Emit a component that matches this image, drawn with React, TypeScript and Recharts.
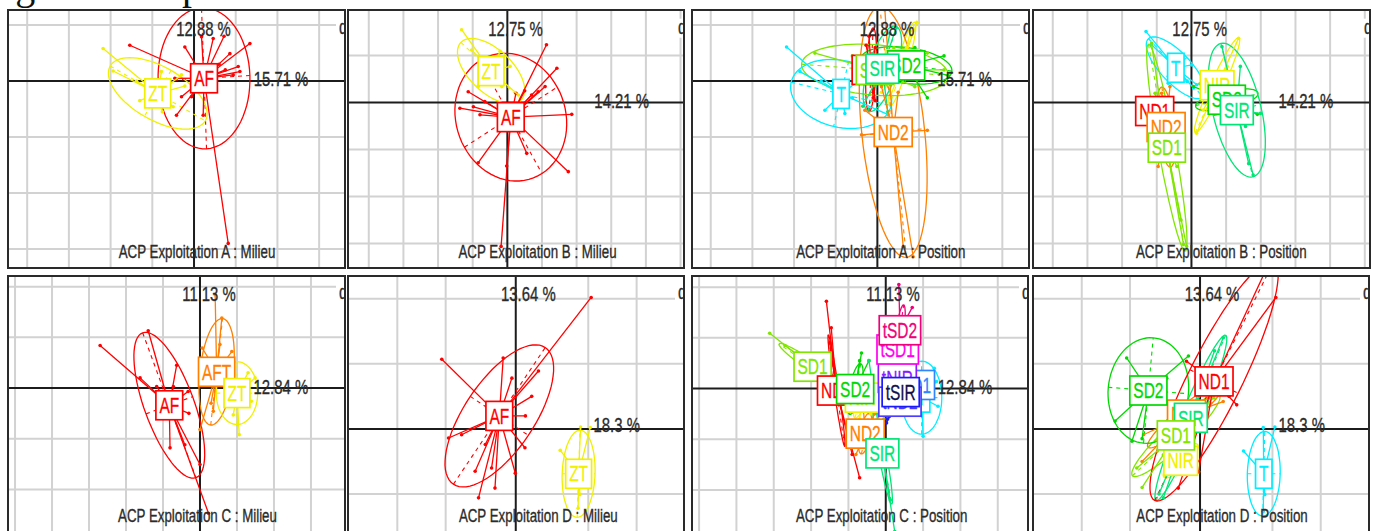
import React from 'react';
import { ScatterChart, Scatter, XAxis, YAxis, ReferenceLine } from 'recharts';

// class colours (ade4 style rainbow)
const RED = '#ff0000';
const ORANGE = '#ff8000';
const YELLOW = '#f0f000';
const LIME = '#80e600';
const GREEN = '#00d900';
const SPRING = '#00e676';
const CYAN = '#00eeff';
const AZURE = '#2f86ff';
const INDIGO = '#4b3cff';
const BLUE = '#1a1aff';
const VIOLET = '#8a1aff';
const MAGENTA = '#ff00ee';
const PINK = '#f0007a';

type Grp = { name: string; col: string; tc?: string; c: number[]; u: number[]; v: number[]; pts: number[][] };

// ---- Exploitation A : Milieu
const A_MIL_AF: Grp = { name: 'AF', col: RED, c: [0.24, 0.05], u: [-0.06, 1.26], v: [1.1, 0.05],
  pts: [[0.82, -2.9], [-1.54, 0.64], [-0.22, 0.61], [0.18, 0.79], [0.46, 0.76], [0.72, 0.8], [0.86, 0.49], [1.34, 0.67], [1.06, 0.26], [1.1, 0.17], [0.94, 0.11], [-0.46, 0.05], [-0.3, -0.28], [-0.42, -0.61], [-0.06, -0.28], [0.22, -0.61], [0.6, 0.3], [0.75, 0.2]] };
const A_MIL_ZT: Grp = { name: 'ZT', col: YELLOW, c: [-0.87, -0.22], u: [1.14, -0.49], v: [-0.32, -0.41],
  pts: [[-2.18, 0.58], [-1.38, 0], [-1.94, 0.18], [-0.76, -0.55], [-0.5, -0.46], [-0.3, 0.11], [-0.22, -0.09], [-0.78, 0.17], [-1.3, -0.35]] };

// ---- Exploitation B : Milieu
const B_MIL_AF: Grp = { name: 'AF', col: RED, c: [0.1, -0.31], u: [1.34, 0.64], v: [0.9, -1.2],
  pts: [[-0.18, -3.06], [1.86, -0.25], [1.13, 1.23], [1.43, 0.73], [1.76, -1.47], [-0.84, -1.28], [-1.37, -0.12], [-1.13, 0.23], [-0.79, -0.26], [-0.65, 0.02], [-0.98, -0.09], [0.7, 0.16], [0.89, 0.23], [1.09, 0.34], [0.56, -1.08], [-0.02, -1.35], [0.5, 0.25], [0.25, 0.2]] };
const B_MIL_ZT: Grp = { name: 'ZT', col: YELLOW, c: [-0.47, 0.67], u: [0.87, -0.61], v: [-0.43, -0.33],
  pts: [[-1.32, 1.55], [-1.03, 1.12], [-0.16, 0.34], [-0.84, 0.34], [0.32, 0.16], [0.08, 0.77], [-0.21, 1.09]] };

// ---- Exploitation A : Position
const A_POS_NIR: Grp = { name: 'NIR', col: YELLOW, c: [0.6, 0.3], u: [0.3, 0.75], v: [0.12, -0.05],
  pts: [[0.95, 1.05], [0.8, 0.9], [0.3, -0.3], [0.1, -0.2], [0.7, 0.6]] };
const A_POS_ND1: Grp = { name: 'ND1', col: RED, c: [-0.15, 0.2], u: [0.05, 0.75], v: [0.12, 0],
  pts: [[-0.27, 0.64], [-0.2, 0.8], [-0.1, -0.3], [-0.05, 0.6], [-0.25, 0.1], [-0.1, -0.2], [-0.05, -0.35]] };
const A_POS_SD1: Grp = { name: 'SD1', col: LIME, c: [-0.06, 0.2], u: [1.76, -0.1], v: [0.03, 0.45],
  pts: [[-1.5, 0.5], [1.6, 0.2], [1.2, 0.5], [-0.6, 0.45], [0.9, -0.1], [0.4, 0.6]] };
const A_POS_SD2: Grp = { name: 'SD2', col: GREEN, c: [0.69, 0.28], u: [1.1, -0.1], v: [0.02, 0.32],
  pts: [[1.6, 0.45], [1.7, 0.1], [-0.1, 0.05], [1.2, -0.3], [0.9, 0.6]] };
const A_POS_SIR: Grp = { name: 'SIR', col: SPRING, c: [0.12, 0.22], u: [0.35, 0.75], v: [0.3, -0.14],
  pts: [[0.45, 0.95], [0.3, 0.85], [-0.35, -0.45], [0.25, -0.55], [0.6, 0.1], [-0.2, 0.3]] };
const A_POS_T: Grp = { name: 'T', col: CYAN, c: [-0.87, -0.23], u: [1.2, -0.21], v: [-0.18, -0.58],
  pts: [[-2.18, 0.61], [-1.86, 0.17], [-1.26, -0.52], [-0.78, -0.58], [-0.38, 0.04], [0.26, -0.6], [-1.35, 0], [-0.6, -0.3]] };
const A_POS_ND2: Grp = { name: 'ND2', col: ORANGE, c: [0.38, -0.91], u: [0.32, -2.24], v: [0.75, 0.06],
  pts: [[0.86, -3.14], [0.62, -2.96], [0.18, 1.27], [-0.38, -0.96], [1.2, -0.88], [-0.3, -0.52], [0.5, -0.2], [0.1, -0.1]] };

// ---- Exploitation B : Position
const B_POS_T: Grp = { name: 'T', col: CYAN, c: [-0.45, 0.74], u: [0.79, -0.62], v: [-0.32, -0.22],
  pts: [[-1.31, 1.51], [-1.15, 1.23], [0.01, 0.8], [-0.13, 0.45], [0.15, 0.38], [0.06, 0.31], [-0.67, 0.41]] };
const B_POS_NIR: Grp = { name: 'NIR', col: YELLOW, c: [0.74, 0.37], u: [0.63, 1.01], v: [0.17, -0.06],
  pts: [[1.36, 1.37], [0.15, -0.65], [0.34, -0.16], [1.03, 0.77], [0.5, 0.1]] };
const B_POS_SD2: Grp = { name: 'SD2', col: GREEN, c: [1.02, 0.06], u: [0.9, 0.12], v: [0.05, 0.2],
  pts: [[0.06, 0.34], [0.3, 0.25], [0.25, 0.4], [1.5, 0], [1.9, -0.25]] };
const B_POS_SIR: Grp = { name: 'SIR', col: SPRING, c: [1.31, -0.16], u: [0.46, -1.42], v: [0.68, 0.12],
  pts: [[1.78, -1.54], [1.99, -0.23], [1.41, 0.77], [0.88, 1.19], [1.56, -0.51], [1.65, -1.3]] };
const B_POS_ND1: Grp = { name: 'ND1', col: RED, c: [-1.06, -0.18], u: [0.05, 0.3], v: [0.1, 0],
  pts: [[-1.0, 0.1], [-1.1, -0.4], [-0.95, -0.1], [-1.15, 0.05]] };
const B_POS_ND2: Grp = { name: 'ND2', col: ORANGE, c: [-0.73, -0.52], u: [0.12, -0.85], v: [0.24, 0],
  pts: [[-0.96, -1.36], [-0.62, 0.34], [-0.86, 0.2], [-0.52, -1.22], [-0.6, -0.8]] };
const B_POS_SD1: Grp = { name: 'SD1', col: LIME, c: [-0.71, -0.96], u: [0.53, -2.2], v: [0.24, 0.03],
  pts: [[-0.14, -3.06], [-0.23, -3.02], [-1.15, 1.26], [-1.05, 0.2], [-0.42, -1.36], [-0.3, -2.5]] };

// ---- Exploitation C : Milieu
const C_MIL_AF: Grp = { name: 'AF', col: RED, c: [-0.83, -0.34], u: [0.72, -1.43], v: [0.63, 0.17],
  pts: [[-2.7, 0.84], [-1.4, 1.13], [-0.63, 0.45], [-0.72, 0.03], [-1.17, 0.03], [-0.81, -1.18], [-0.41, -1.12], [0, -1.51], [0.23, -2.47], [-0.32, -0.07], [-1.62, 0.2], [-0.3, -0.5]] };
const C_MIL_AFT: Grp = { name: 'AFT', col: ORANGE, c: [0.45, 0.32], u: [0.16, 1.05], v: [0.45, -0.03],
  pts: [[0.41, 1.84], [0.59, 1.38], [0.86, 0.72], [0.06, 0.79], [0, -0.82], [0.36, -0.46], [0.54, 0.86], [0.3, -0.3]] };
const C_MIL_ZT: Grp = { name: 'ZT', col: YELLOW, c: [1.0, -0.1], u: [0, 0.62], v: [0.56, 0],
  pts: [[1.06, -0.92], [1.49, 0.2], [0.63, 0.2], [0.9, -0.53], [1.39, -0.26], [1.3, 0.3]] };

// ---- Exploitation D : Milieu
const D_MIL_AF: Grp = { name: 'AF', col: RED, c: [-0.34, 0.2], u: [0.95, 1.05], v: [0.6, -0.3],
  pts: [[1.56, 2.02], [-1.53, 1.07], [-0.26, 1.09], [-0.08, 0.78], [0.47, 0.89], [0.33, 0.5], [-1.39, -0.14], [-1.12, -0.09], [-0.77, -1.06], [-0.43, -0.91], [-0.84, -0.65], [-0.01, -0.68], [0.19, -0.29], [-0.63, -0.24], [-0.5, -0.6], [0.2, 0.2]] };
const D_MIL_ZT: Grp = { name: 'ZT', col: YELLOW, c: [1.3, -0.69], u: [0.03, 0.67], v: [0.34, 0],
  pts: [[0.92, -0.33], [1.54, 0.02], [1.34, 0.03], [1.33, -1.01], [1.29, -1.22]] };

// ---- Exploitation C : Position
const C_POS_SD1: Grp = { name: 'SD1', col: LIME, c: [-1.96, 0.43], u: [-0.9, 0.45], v: [0.05, 0.1],
  pts: [[-3.11, 1.09], [-2.7, 0.85], [-2.4, 0.7], [-1.3, 0.1]] };
const C_POS_ND1: Grp = { name: 'ND1', col: RED, c: [-1.32, -0.04], u: [-0.22, 1.1], v: [0.06, 0.01],
  pts: [[-1.59, 1.72], [-0.7, -1.76], [-1.46, 1.2], [-1.5, 0.9], [-0.9, -1.3]] };
const C_POS_NIR: Grp = { name: 'NIR', col: YELLOW, c: [-0.63, -0.18], u: [0.2, 0.4], v: [0.12, -0.05],
  pts: [[-0.9, 0.2], [-0.4, -0.5], [-0.7, -0.6]] };
const C_POS_SD2: Grp = { name: 'SD2', col: GREEN, c: [-0.82, -0.01], u: [0.15, 0.5], v: [0.15, -0.04],
  pts: [[-0.65, 0.7], [-0.7, 0.55], [-0.9, -0.3], [-0.45, 0.55]] };
const C_POS_ND2: Grp = { name: 'ND2', col: ORANGE, c: [-0.55, -0.89], u: [0.1, 0.4], v: [0.15, 0],
  pts: [[-0.8, -1.3], [-0.3, -0.5], [-0.6, -0.4]] };
const C_POS_SIR: Grp = { name: 'SIR', col: SPRING, c: [-0.09, -1.28], u: [0.25, -1.0], v: [0.1, 0.02],
  pts: [[0.24, -2.82], [0.12, -2.2], [-0.45, 0.55], [-0.05, -0.6]] };
const C_POS_T: Grp = { name: 'T', col: CYAN, c: [0.96, -0.18], u: [0, 0.72], v: [0.54, 0],
  pts: [[1.0, -0.94], [1.36, 0.14], [0.6, -0.52], [1.3, 0.4], [1.4, -0.35], [0.55, 0.2]] };
const C_POS_TND1: Grp = { name: 'tND1', col: AZURE, c: [0.74, 0.07], u: [0.2, 0.15], v: [0.05, -0.08],
  pts: [[0.9, 0.3], [0.6, -0.2]] };
const C_POS_TNIR: Grp = { name: 'tNIR', col: VIOLET, c: [0.31, 0.21], u: [0.15, 0.25], v: [0.08, -0.04],
  pts: [[0.5, 0.5], [0.2, -0.1]] };
const C_POS_TSD1: Grp = { name: 'tSD1', col: MAGENTA, c: [0.32, 0.77], u: [0.1, 0.3], v: [0.15, 0],
  pts: [[0.5, 1.1], [0.2, 0.5], [0.6, 0.6]] };
const C_POS_TSD2: Grp = { name: 'tSD2', col: PINK, c: [0.38, 1.15], u: [0.1, 0.5], v: [0.1, -0.02],
  pts: [[0.35, 2.05], [0.71, 1.6], [0.2, 0.9]] };
const C_POS_TND2: Grp = { name: 'tND2', col: INDIGO, c: [0.38, -0.26], u: [0.2, 0.2], v: [0.06, -0.06],
  pts: [[0.1, -0.55], [0.6, -0.1]] };
const C_POS_TSIR: Grp = { name: 'tSIR', col: BLUE, tc: '#10104a', c: [0.4, -0.07], u: [0.3, 0.4], v: [0.05, -0.04],
  pts: [[0.02, -0.68], [0.05, -0.6], [0.8, 0.1]] };

// ---- Exploitation D : Position
const D_POS_NIR: Grp = { name: 'NIR', col: YELLOW, c: [-0.4, -0.49], u: [0.35, 0.25], v: [0.1, -0.08],
  pts: [[-0.03, -0.66], [-0.55, -0.4], [-0.3, -0.25], [-0.6, -0.7]] };
const D_POS_ND2: Grp = { name: 'ND2', col: ORANGE, c: [-0.28, 0.22], u: [0.8, 0.5], v: [0.12, -0.11],
  pts: [[-1.17, -0.09], [0.34, 0.58], [0.48, 0.42], [-1.2, -0.5], [-0.5, 0]] };
const D_POS_SIR: Grp = { name: 'SIR', col: SPRING, c: [-0.19, 0.17], u: [0.72, 1.27], v: [0.19, -0.06],
  pts: [[0.48, 1.4], [-0.76, -1.06], [0.1, 0.94], [-0.48, -0.7], [-0.85, -1.0], [0.3, 1.2]] };
const D_POS_SD1: Grp = { name: 'SD1', col: LIME, c: [-0.5, -0.1], u: [0.9, 0.62], v: [0.16, -0.13],
  pts: [[-1.31, -0.6], [0.28, 0.48], [-0.76, -0.4], [-1.2, -0.9], [0.1, 0.3]] };
const D_POS_SD2: Grp = { name: 'SD2', col: GREEN, c: [-1.07, 0.59], u: [0.1, 0.81], v: [0.83, -0.05],
  pts: [[-1.52, 1.09], [-0.24, 1.12], [-1.41, -0.19], [-1.76, 0.12], [-0.69, 0.78], [-1.2, -0.15]] };
const D_POS_ND1: Grp = { name: 'ND1', col: RED, c: [0.29, 0.73], u: [1.23, 1.83], v: [0.5, -0.18],
  pts: [[1.57, 2.02], [-0.03, -0.66], [-0.45, -0.91], [-0.28, 1.04], [0.76, 0.37], [1.4, 2.5], [0, 0.9], [0.6, 0.5]] };
const D_POS_T: Grp = { name: 'T', col: CYAN, c: [1.32, -0.69], u: [0.02, 0.65], v: [0.34, 0],
  pts: [[0.9, -0.34], [1.55, 0.03], [1.31, 0.02], [1.34, -1.01], [1.31, -1.27]] };

// texts
const TITLES = [
  'ACP Exploitation A : Milieu', 'ACP Exploitation B : Milieu', 'ACP Exploitation A : Position', 'ACP Exploitation B : Position',
  'ACP Exploitation C : Milieu', 'ACP Exploitation D : Milieu', 'ACP Exploitation C : Position', 'ACP Exploitation D : Position',
];
const EIG_V = ['12.88 %', '12.75 %', '12.88 %', '12.75 %', '11.13 %', '13.64 %', '11.13 %', '13.64 %'];
const EIG_H = ['15.71 %', '14.21 %', '15.71 %', '14.21 %', '12.84 %', '18.3 %', '12.84 %', '18.3 %'];

// layout of the 8 panels (pixels) and their axis windows (grid units)
const PANELS = [
  { left: 8, top: 10, w: 337, h: 258, xd: [-4.46, 3.62], yd: [-3.34, 1.27], gx: [-4, -3, -2, -1, 1, 2, 3], gy: [1, -1, -2, -3],
    groups: [A_MIL_AF, A_MIL_ZT], eTop: [203.5, 35.7], eRight: [281, 86], tx: 197, ty: 258.3 },
  { left: 348, top: 10, w: 336, h: 258, xd: [-4.6, 5.1], yd: [-3.52, 1.97], gx: [-4, -3, -2, -1, 1, 2, 3, 4, 5], gy: [1, -1, -2, -3],
    groups: [B_MIL_AF, B_MIL_ZT], eTop: [515.5, 35.7], eRight: [621.7, 107.7], tx: 537.5, ty: 258.3 },
  { left: 692, top: 10, w: 337, h: 258, xd: [-4.45, 3.64], yd: [-3.34, 1.27], gx: [-4, -3, -2, -1, 1, 2, 3], gy: [1, -1, -2, -3],
    groups: [A_POS_NIR, A_POS_ND1, A_POS_SD1, A_POS_SD2, A_POS_SIR, A_POS_T, A_POS_ND2], eTop: [887, 35.7], eRight: [964.7, 86], tx: 880.8, ty: 258.3 },
  { left: 1033, top: 10, w: 337, h: 258, xd: [-4.57, 5.15], yd: [-3.52, 1.97], gx: [-4, -3, -2, -1, 1, 2, 3, 4, 5], gy: [1, -1, -2, -3],
    groups: [B_POS_T, B_POS_NIR, B_POS_SD2, B_POS_SIR, B_POS_ND1, B_POS_ND2, B_POS_SD1], eTop: [1199.7, 35.7], eRight: [1305.8, 107.7], tx: 1221.3, ty: 258.3 },
  { left: 8, top: 276, w: 337, h: 257, xd: [-5.19, 3.92], yd: [-2.86, 2.21], gx: [-5, -4, -3, -2, -1, 1, 2, 3], gy: [2, 1, -1, -2],
    groups: [C_MIL_AF, C_MIL_AFT, C_MIL_ZT], eTop: [209, 301.3], eRight: [280.8, 394], tx: 197.5, ty: 522 },
  { left: 348, top: 276, w: 336, h: 257, xd: [-3.47, 3.48], yd: [-1.6, 2.35], gx: [-2.45, -1.45, 1.5, 2.5], gy: [2, 1, -1],
    groups: [D_MIL_AF, D_MIL_ZT], eTop: [528.3, 301.3], eRight: [616.7, 432], tx: 538.3, ty: 522 },
  { left: 692, top: 276, w: 336, h: 257, xd: [-5.19, 3.81], yd: [-2.85, 2.22], gx: [-5, -4, -3, -2, -1, 1, 2, 3], gy: [2, 1, -1, -2],
    groups: [C_POS_SD1, C_POS_ND1, C_POS_NIR, C_POS_SD2, C_POS_ND2, C_POS_SIR, C_POS_T, C_POS_TND1, C_POS_TNIR, C_POS_TSD1, C_POS_TSD2, C_POS_TND2, C_POS_TSIR],
    eTop: [893, 301.3], eRight: [965, 394], tx: 881.7, ty: 522 },
  { left: 1033, top: 276, w: 336, h: 257, xd: [-3.46, 3.5], yd: [-1.6, 2.35], gx: [-2.45, -1.45, 1.5, 2.5], gy: [2, 1, -1],
    groups: [D_POS_NIR, D_POS_ND2, D_POS_SIR, D_POS_SD1, D_POS_SD2, D_POS_ND1, D_POS_T], eTop: [1212, 301.3], eRight: [1301.7, 432], tx: 1222, ty: 522 },
];

const FONT = "'Liberation Sans', Arial, sans-serif";
const SQ = 0.72; // the figure is squeezed horizontally

const CW: Record<string, number> = { A: 0.667, D: 0.722, F: 0.611, I: 0.278, N: 0.722, R: 0.722, S: 0.667, T: 0.611, Z: 0.611, t: 0.278 };
const textW = (s: string) => s.split('').reduce((a, ch) => a + (CW[ch] ?? 0.556), 0);

const ellipseShape = (kx: number, ky: number) => (p: any) => {
  const { cx, cy, payload } = p;
  const U = [payload.u[0] * kx, -payload.u[1] * ky];
  const V = [payload.v[0] * kx, -payload.v[1] * ky];
  let d = '';
  for (let i = 0; i <= 72; i++) {
    const t = (i / 72) * Math.PI * 2;
    const px = cx + U[0] * Math.cos(t) + V[0] * Math.sin(t);
    const py = cy + U[1] * Math.cos(t) + V[1] * Math.sin(t);
    d += (i ? 'L' : 'M') + px.toFixed(1) + ',' + py.toFixed(1);
  }
  return (
    <g>
      <path d={d} fill="none" stroke={payload.col} strokeWidth={1.3} />
      <line x1={cx - U[0]} y1={cy - U[1]} x2={cx + U[0]} y2={cy + U[1]} stroke={payload.col} strokeWidth={1.1} strokeDasharray="4 4" />
      <line x1={cx - V[0]} y1={cy - V[1]} x2={cx + V[0]} y2={cy + V[1]} stroke={payload.col} strokeWidth={1.1} strokeDasharray="4 4" />
    </g>
  );
};

const starShape = (kx: number, ky: number) => (p: any) => {
  const { cx, cy, payload } = p;
  const gx = cx + (payload.gx - payload.x) * kx;
  const gy = cy - (payload.gy - payload.y) * ky;
  return (
    <g>
      <line x1={cx} y1={cy} x2={gx} y2={gy} stroke={payload.col} strokeWidth={1.3} />
      <circle cx={cx} cy={cy} r={1.8} fill={payload.col} />
    </g>
  );
};

const labelShape = (p: any) => {
  const { cx, cy, payload } = p;
  const bw = textW(payload.name) * 21.5 * SQ + 7;
  const bh = 29;
  const tc = payload.tc || payload.col;
  return (
    <g>
      <rect x={cx - bw / 2} y={cy - bh / 2} width={bw} height={bh} fill="#fff" stroke={payload.col} strokeWidth={1.7} />
      <text transform={`translate(${cx},${cy + 7.7}) scale(${SQ},1)`} textAnchor="middle" fontSize={21.5} fontFamily={FONT}
        fill={tc} stroke={tc} strokeWidth={0.3}>{payload.name}</text>
    </g>
  );
};

function Panel({ p }: { p: any }) {
  const kx = p.w / (p.xd[1] - p.xd[0]);
  const ky = p.h / (p.yd[1] - p.yd[0]);
  const ellData = p.groups.map((g: Grp) => ({ x: g.c[0], y: g.c[1], u: g.u, v: g.v, col: g.col }));
  const starData = p.groups.flatMap((g: Grp) => g.pts.map((q) => ({ x: q[0], y: q[1], gx: g.c[0], gy: g.c[1], col: g.col })));
  const labData = p.groups.map((g: Grp) => ({ x: g.c[0], y: g.c[1], name: g.name, col: g.col, tc: g.tc }));
  return (
    <div style={{ position: 'absolute', left: p.left, top: p.top, width: p.w, height: p.h, overflow: 'hidden', background: '#fff' }}>
      <ScatterChart width={p.w} height={p.h} margin={{ top: 0, right: 0, bottom: 0, left: 0 }}>
        <XAxis type="number" dataKey="x" domain={p.xd} hide allowDataOverflow />
        <YAxis type="number" dataKey="y" domain={p.yd} hide allowDataOverflow />
        {p.gx.map((v: number) => <ReferenceLine key={'x' + v} x={v} stroke="#d2d2d2" strokeWidth={2} />)}
        {p.gy.map((v: number) => <ReferenceLine key={'y' + v} y={v} stroke="#d2d2d2" strokeWidth={2} />)}
        <ReferenceLine x={0} stroke="#1c1c1c" strokeWidth={2} />
        <ReferenceLine y={0} stroke="#1c1c1c" strokeWidth={2} />
        <Scatter data={ellData} shape={ellipseShape(kx, ky)} isAnimationActive={false} />
        <Scatter data={starData} shape={starShape(kx, ky)} isAnimationActive={false} />
        <Scatter data={labData} shape={labelShape} isAnimationActive={false} />
      </ScatterChart>
    </div>
  );
}

export default function App() {
  return (
    <div style={{ position: 'fixed', left: 0, top: 0, width: 1374, height: 531, overflow: 'hidden', background: '#fff' }}>
      {PANELS.map((p, i) => <Panel key={i} p={p} />)}
      <svg width={1374} height={531} style={{ position: 'absolute', left: 0, top: 0 }}>
        <defs>
          {PANELS.map((p, i) => (
            <clipPath key={i} id={'clip' + i}><rect x={p.left} y={p.top} width={p.w} height={p.h} /></clipPath>
          ))}
        </defs>
        {/* caption line above, cut by the crop */}
        <text x={-18} y={-1} fontSize={40} fontFamily="'Liberation Serif', serif" fill="#111">Figure</text>
        <text x={182} y={-1} fontSize={40} fontFamily="'Liberation Serif', serif" fill="#111">p</text>
        {PANELS.map((p, i) => {
          const dY = p.eTop[1] - 2;
          return (
            <g key={i} fontFamily={FONT} fill="#2b2b2b" stroke="#2b2b2b" strokeWidth={0.35}>
              <g clipPath={`url(#clip${i})`}>
                <rect x={p.left + p.w - 9} y={dY - 15} width={9} height={19} fill="#fff" stroke="none" />
                <text transform={`translate(${p.left + p.w - 6},${dY}) scale(0.71,1)`} fontSize={21}>d = 1</text>
              </g>
              <text transform={`translate(${p.eTop[0]},${p.eTop[1]}) scale(0.71,1)`} textAnchor="middle" fontSize={21}>{EIG_V[i]}</text>
              <text transform={`translate(${p.eRight[0]},${p.eRight[1]}) scale(0.71,1)`} textAnchor="middle" fontSize={21}>{EIG_H[i]}</text>
              <text transform={`translate(${p.tx},${p.ty}) scale(0.72,1)`} textAnchor="middle" fontSize={18.5}>{TITLES[i]}</text>
              <rect x={p.left} y={p.top} width={p.w} height={p.h} fill="none" stroke="#2a2a2a" strokeWidth={2} />
            </g>
          );
        })}
      </svg>
    </div>
  );
}
